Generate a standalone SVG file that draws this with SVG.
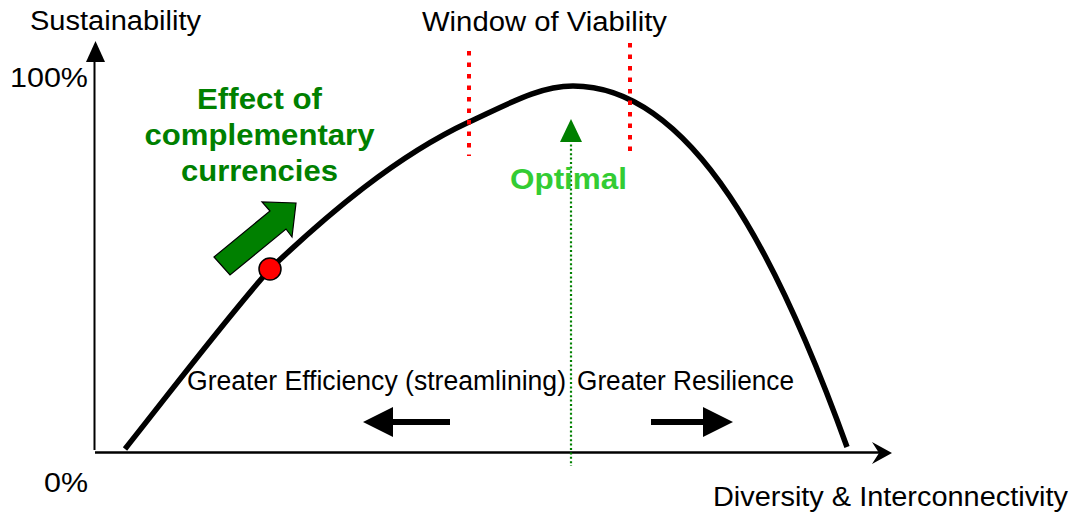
<svg xmlns="http://www.w3.org/2000/svg" width="1076" height="514" viewBox="0 0 1076 514">
<style>
.t{font-family:"Liberation Sans",Arial,sans-serif;font-size:27px;fill:#000}
.b{font-family:"Liberation Sans",Arial,sans-serif;font-size:30px;font-weight:bold}
.red{stroke:#ff0000;stroke-width:4;stroke-dasharray:4.5 7;fill:none}
</style>
<rect width="1076" height="514" fill="#fff"/>
<g id="axes">
<line x1="94.5" y1="450" x2="94.5" y2="60" stroke="#000" stroke-width="2"/>
<polygon points="95.5,41 86,62 105,62" fill="#000"/>
<line x1="95" y1="452.5" x2="882" y2="452.5" stroke="#000" stroke-width="2.5"/>
<polygon points="892,453 872,442 879,453 872,464" fill="#000"/>
</g>
<g id="curve">
<path d="M125,449 C175,386 225,320 270,269 C328,214 396,156 469,122 C510,103 540,86 573,86 C693,86 779,259 847,447" fill="none" stroke="#000" stroke-width="5.5"/>
</g>
<g id="window">
<line class="red" x1="469" y1="51" x2="469" y2="156"/>
<line class="red" x1="630" y1="43" x2="630" y2="153"/>
</g>
<g id="optimal">
<line x1="571" y1="140" x2="571" y2="466" stroke="#008000" stroke-width="2.2" stroke-dasharray="2 2.4"/>
<polygon points="571,119 560,142 582,142" fill="#008000"/>
<text class="b" x="568.5" y="189" text-anchor="middle" fill="#33cc33" textLength="117" lengthAdjust="spacingAndGlyphs">Optimal</text>
</g>
<g id="effect">
<polygon points="214,257 270,211 262,202 296,203 292,237 286,229 230,275" fill="#008000" stroke="#000" stroke-width="1.2"/>
<circle cx="270" cy="269" r="11" fill="#ff0000" stroke="#000" stroke-width="1.5"/>
<text class="b" fill="#008000" text-anchor="middle" x="259.5" y="109" textLength="125" lengthAdjust="spacingAndGlyphs">Effect of</text>
<text class="b" fill="#008000" text-anchor="middle" x="259.5" y="145" textLength="230" lengthAdjust="spacingAndGlyphs">complementary</text>
<text class="b" fill="#008000" text-anchor="middle" x="259.5" y="181" textLength="157" lengthAdjust="spacingAndGlyphs">currencies</text>
</g>
<g id="direction-arrows">
<polygon points="363,422 393,407 393,419 450,419 450,425 393,425 393,437" fill="#000"/>
<polygon points="651,419 703,419 703,407 733,422 703,437 703,425 651,425" fill="#000"/>
</g>
<g id="labels">
<text class="t" x="30" y="30" textLength="171" lengthAdjust="spacingAndGlyphs">Sustainability</text>
<text class="t" x="422" y="31" textLength="245" lengthAdjust="spacingAndGlyphs">Window of Viability</text>
<text class="t" x="10" y="87" textLength="78" lengthAdjust="spacingAndGlyphs" style="font-size:28px">100%</text>
<text class="t" x="44" y="492" style="font-size:28px" textLength="44" lengthAdjust="spacingAndGlyphs">0%</text>
<text class="t" x="187" y="390" textLength="379" lengthAdjust="spacingAndGlyphs">Greater Efficiency (streamlining)</text>
<text class="t" x="577" y="390" textLength="217" lengthAdjust="spacingAndGlyphs">Greater Resilience</text>
<text class="t" x="713" y="506" textLength="355" lengthAdjust="spacingAndGlyphs">Diversity &amp; Interconnectivity</text>
</g>
</svg>
